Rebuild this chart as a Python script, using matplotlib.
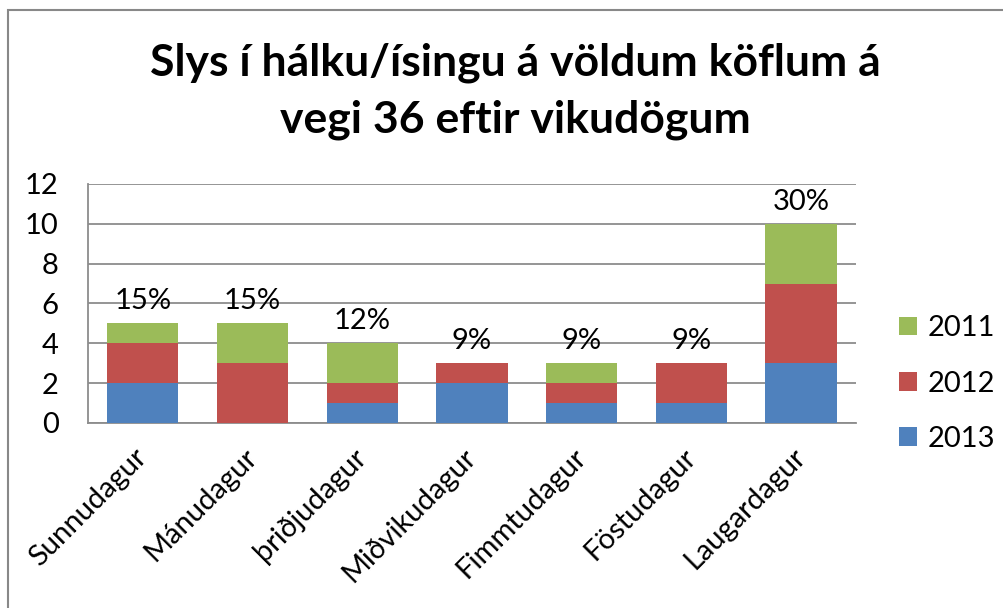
import numpy as np
import matplotlib.pyplot as plt
import matplotlib.transforms as mtransforms
from matplotlib.patches import Rectangle

plt.rcParams['font.family'] = ['Lato', 'DejaVu Sans']

# data
days = ['Sunnudagur', 'Mánudagur', 'þriðjudagur', 'Miðvikudagur',
        'Fimmtudagur', 'Föstudagur', 'Laugardagur']
y2013 = [2, 0, 1, 2, 1, 1, 3]
y2012 = [2, 3, 1, 1, 1, 2, 4]
y2011 = [1, 2, 2, 0, 1, 0, 3]
pct_labels = ['15%', '15%', '12%', '9%', '9%', '9%', '30%']

blue = '#4F81BD'
red = '#C0504D'
green = '#9BBB59'
grid = '#8C8C8C'

fig = plt.figure(figsize=(10.04, 6.08), dpi=100)
ax = fig.add_axes([0.0876, 0.3043, 0.765, 0.3931])

x = np.arange(len(days))
w = 0.65
b13 = ax.bar(x, y2013, w, color=blue, label='2013', zorder=3)
b12 = ax.bar(x, y2012, w, bottom=y2013, color=red, label='2012', zorder=3)
bottom11 = np.array(y2013) + np.array(y2012)
b11 = ax.bar(x, y2011, w, bottom=bottom11, color=green, label='2011', zorder=3)

totals = bottom11 + np.array(y2011)
for xi, t, lab in zip(x, totals, pct_labels):
    ax.text(xi, t + 0.45, lab, ha='center', va='bottom', fontsize=21, zorder=4)

ax.set_xlim(-0.5, len(days) - 0.5)
ax.set_ylim(0, 12)
ax.set_yticks(range(0, 13, 2))
ax.yaxis.grid(True, color=grid, lw=1.3, zorder=0)
ax.tick_params(axis='y', length=0, labelsize=21, pad=21)
ax.tick_params(axis='x', length=0, labelsize=21, pad=15)
ax.set_xticks(x)
ax.set_xticklabels(days, rotation=45, ha='right', va='top',
                   rotation_mode='anchor')
# nudge rotated labels a bit to the left, like the original
shift = mtransforms.ScaledTranslation(-0.09, 0, fig.dpi_scale_trans)
for lab in ax.get_xticklabels():
    lab.set_transform(lab.get_transform() + shift)
for s in ['top', 'right']:
    ax.spines[s].set_visible(False)
for s in ['left', 'bottom']:
    ax.spines[s].set_color(grid)
    ax.spines[s].set_linewidth(1.3)

handles = [b11, b12, b13]
ax.legend(handles, ['2011', '2012', '2013'], loc='center left',
          bbox_to_anchor=(1.056, 0.165), frameon=False, fontsize=21,
          borderpad=0, borderaxespad=0,
          handlelength=0.6, handleheight=0.6, handletextpad=0.38,
          labelspacing=1.0)

fig.suptitle('Slys í hálku/ísingu á völdum köflum á\nvegi 36 eftir vikudögum',
             x=0.513, y=0.93, fontsize=32, fontweight='bold', linespacing=1.5)

# outer chart frame, runs off the right and bottom edges
fig.patches.append(Rectangle((0.008, -0.1), 1.2, 0.1 + 0.9836, fill=False,
                             edgecolor='#888888', lw=1.5,
                             transform=fig.transFigure))

fig.savefig('out.png', dpi=100)
plt.close('all')
